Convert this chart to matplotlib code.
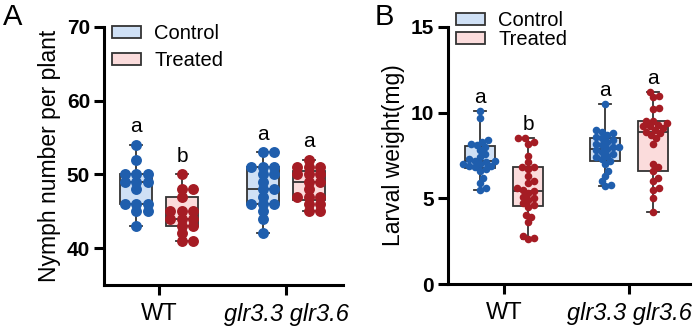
import numpy as np
import matplotlib
matplotlib.use("Agg")
import matplotlib.pyplot as plt
from matplotlib.patches import Patch

plt.rcParams['font.family'] = ['Liberation Sans', 'Noto Sans CJK SC', 'DejaVu Sans']

# ---- data ----
genotypes = ['WT', 'glr3.3 glr3.6']
treatments = ['Control', 'Treated']

# panel A: nymph number per plant
nymph_wt_control = [54, 52, 50, 50, 50, 49, 49, 49, 48, 46, 46, 46, 45, 45, 43]
nymph_wt_treated = [50, 48, 48, 47, 45, 45, 45, 44, 44, 44, 43, 43, 42, 41, 41]
nymph_glr_control = [53, 53, 51, 51, 51, 50, 50, 49, 48, 48, 47, 46, 46, 46, 45, 44, 42]
nymph_glr_treated = [52, 51, 51, 51, 50, 50, 50, 49, 49, 48, 47, 47, 47, 46, 46, 45, 45]
nymph_letters = ['a', 'b', 'a', 'a']

# panel B: larval weight (mg)
weight_wt_control = [10.1, 9.7, 8.4, 8.3, 8.2, 8.1, 8.0, 7.8, 7.6, 7.4, 7.3, 7.2, 7.2,
                     7.1, 7.0, 7.0, 6.9, 6.9, 6.8, 6.7, 6.6, 6.2, 5.9, 5.6, 5.5]
weight_wt_treated = [8.5, 8.5, 8.3, 8.2, 7.5, 7.1, 6.8, 6.8, 6.7, 6.3, 6.0, 5.9, 5.6, 5.5,
                     5.4, 5.3, 5.1, 5.0, 4.9, 4.7, 4.6, 4.5, 4.0, 3.9, 3.6, 2.8, 2.7, 2.6]
weight_glr_control = [10.5, 9.0, 8.9, 8.8, 8.7, 8.6, 8.5, 8.4, 8.3, 8.2, 8.1, 8.0, 8.0, 7.9,
                      7.8, 7.7, 7.6, 7.5, 7.4, 7.3, 7.2, 7.0, 6.6, 6.3, 6.0, 5.8, 5.7]
weight_glr_treated = [11.2, 11.0, 10.9, 10.3, 10.2, 9.5, 9.5, 9.4, 9.3, 9.2, 9.2, 9.1, 9.0, 8.9,
                      8.8, 8.7, 8.5, 8.2, 7.0, 6.8, 6.6, 6.2, 6.0, 5.6, 5.5, 5.0, 4.2]
weight_letters = ['a', 'b', 'a', 'a']

box_fill = ['#cfe0f5', '#fbdcdc']
dot_color = ['#1f5ead', '#a51c24']
edge = '#333333'


def swarm_x(ax, x0, values, diam, yscale=1.0):
    """Beeswarm placement in screen pixels, returned in data x."""
    pts = ax.transData.transform(np.column_stack([np.full(len(values), x0), values]))
    ys = pts[:, 1] * yscale
    placed = []
    xoff = np.zeros(len(values))
    for i in np.argsort(ys, kind='stable'):
        y = ys[i]
        cands = [0.0]
        for px, py in placed:
            dy = y - py
            if abs(dy) < diam:
                dx = np.sqrt(diam ** 2 - dy ** 2)
                cands += [px + dx, px - dx]
        cands.sort(key=abs)
        for c in cands:
            if all((c - px) ** 2 + (y - py) ** 2 >= diam ** 2 - 1e-6 for px, py in placed):
                break
        placed.append((c, y))
        xoff[i] = c
    back = ax.transData.inverted().transform(np.column_stack([pts[:, 0] + xoff, pts[:, 1]]))
    return back[:, 0]


def box_stats(vals):
    # quartiles the GraphPad way: (n+1)p rank
    q1, med, q3 = np.percentile(vals, [25, 50, 75], method='weibull')
    return dict(med=med, q1=q1, q3=q3, whislo=min(vals), whishi=max(vals), fliers=[])


def draw_panel(ax, groups, letters, xlim, ylim, yticks, offset, dot_s, diam, yscale, letter_pad):
    ax.set_xlim(*xlim)
    ax.set_ylim(*ylim)
    pos = [0 - offset, 0 + offset, 1 - offset, 1 + offset]
    bp = ax.bxp([box_stats(g) for g in groups], positions=pos, widths=0.245,
                patch_artist=True, showfliers=False, capwidths=0.1,
                medianprops=dict(color=edge, lw=1.3),
                boxprops=dict(edgecolor=edge, lw=1.3),
                whiskerprops=dict(color=edge, lw=1.3),
                capprops=dict(color=edge, lw=1.3), zorder=2)
    for k, b in enumerate(bp['boxes']):
        b.set_facecolor(box_fill[k % 2])
    for k, vals in enumerate(groups):
        xs = swarm_x(ax, pos[k], vals, diam, yscale)
        ax.scatter(xs, vals, s=dot_s, color=dot_color[k % 2], zorder=3,
                   linewidths=0, clip_on=False)
        ax.annotate(letters[k], (pos[k], max(vals)), xytext=(0, letter_pad),
                    textcoords='offset points', ha='center', va='baseline',
                    fontsize=15)
    for s in ['top', 'right']:
        ax.spines[s].set_visible(False)
    for s in ['left', 'bottom']:
        ax.spines[s].set_linewidth(2.2)
    ax.set_yticks(yticks)
    ax.set_xticks([0, 1])
    ax.set_xticklabels(genotypes, fontsize=17)
    ax.get_xticklabels()[1].set_fontstyle('italic')
    ax.tick_params(axis='both', width=2.2, length=7, pad=3)
    ax.tick_params(axis='x', pad=6)
    for t in ax.get_yticklabels():
        t.set_fontweight('bold')
        t.set_fontsize(15)


fig = plt.figure(figsize=(7, 3.29), dpi=100)
W, H = 700, 329

axA = fig.add_axes([104 / W, (H - 285) / H, 239 / W, 258 / H])
draw_panel(axA, [nymph_wt_control, nymph_wt_treated, nymph_glr_control, nymph_glr_treated],
           nymph_letters, (-0.433, 1.449), (35, 70), [40, 50, 60, 70],
           0.181, 62, 11.5, 1.6, 9)
axA.set_ylabel('Nymph number per plant', fontsize=16.5, labelpad=4)

axB = fig.add_axes([448 / W, (H - 284) / H, 242 / W, 257 / H])
draw_panel(axB, [weight_wt_control, weight_wt_treated, weight_glr_control, weight_glr_treated],
           weight_letters, (-0.448, 1.488), (0, 15), [0, 5, 10, 15],
           0.192, 30, 6.2, 1.0, 6)
axB.set_ylabel('Larval weight(mg)', fontsize=16.5, labelpad=4)

handles = [Patch(facecolor=box_fill[i], edgecolor=edge, lw=1.3, label=treatments[i])
           for i in range(2)]
axA.legend(handles=handles, loc='upper left', bbox_to_anchor=(112 / W, 1 - 24 / H),
           bbox_transform=fig.transFigure, frameon=False, fontsize=14.5,
           handlelength=1.45, handleheight=0.6, handletextpad=0.65,
           labelspacing=0.4, borderpad=0, borderaxespad=0)
axB.legend(handles=handles, loc='upper left', bbox_to_anchor=(456 / W, 1 - 11 / H),
           bbox_transform=fig.transFigure, frameon=False, fontsize=14.5,
           handlelength=1.45, handleheight=0.6, handletextpad=0.65,
           labelspacing=0.0, borderpad=0, borderaxespad=0)

fig.text(3 / W, 1 - 3 / H, 'A', fontsize=21, va='top', ha='left')
fig.text(375 / W, 1 - 3 / H, 'B', fontsize=21, va='top', ha='left')

fig.savefig('out.png', dpi=100)
